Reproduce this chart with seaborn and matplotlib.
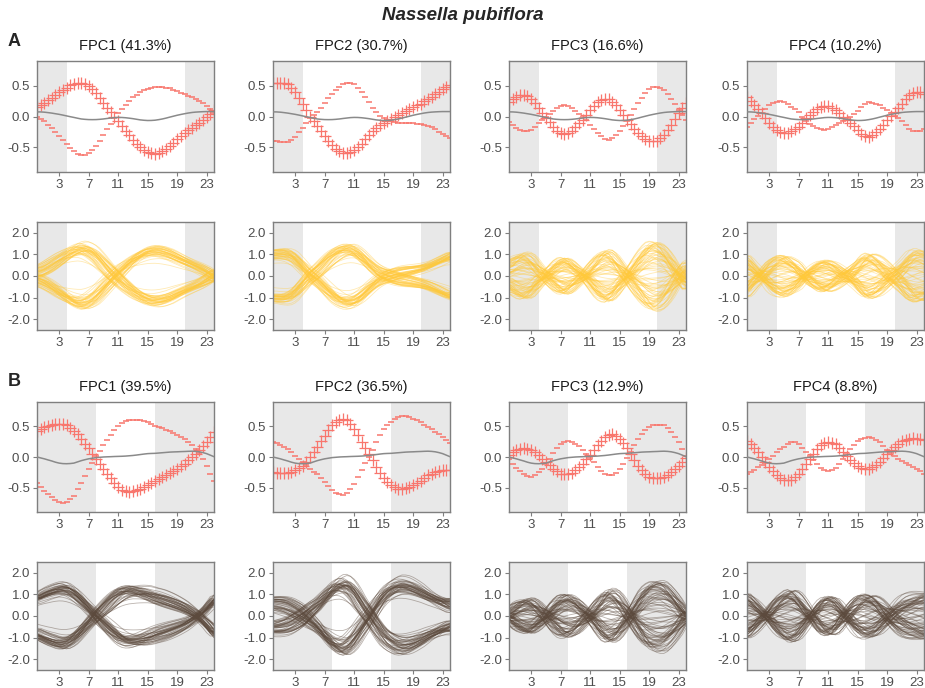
import numpy as np
import pandas as pd
import matplotlib
matplotlib.use("Agg")
import matplotlib.pyplot as plt
import seaborn as sns

# ---------------- data ----------------
hours = np.arange(0, 24.01, 0.5)
xticks = [3, 7, 11, 15, 19, 23]
titles_A = ["FPC1 (41.3%)", "FPC2 (30.7%)", "FPC3 (16.6%)", "FPC4 (10.2%)"]
titles_B = ["FPC1 (39.5%)", "FPC2 (36.5%)", "FPC3 (12.9%)", "FPC4 (8.8%)"]
night_A = [(0, 4), (20, 24)]
night_B = [(0, 8), (16, 24)]

mean_A = [0.075, 0.074, 0.07, 0.063, 0.055, 0.045, 0.035, 0.023, 0.01, -0.003,
          -0.015, -0.028, -0.04, -0.046, -0.05, -0.051, -0.05, -0.046, -0.04, -0.032,
          -0.025, -0.018, -0.015, -0.016, -0.02, -0.027, -0.035, -0.045, -0.055, -0.061,
          -0.065, -0.064, -0.06, -0.051, -0.04, -0.026, -0.01, 0.005, 0.02, 0.033,
          0.045, 0.056, 0.065, 0.071, 0.075, 0.078, 0.08, 0.08, 0.08]
plus_A1 = [0.16, 0.19, 0.22, 0.26, 0.30, 0.345, 0.39, 0.43, 0.47, 0.505,
           0.53, 0.545, 0.55, 0.53, 0.49, 0.44, 0.38, 0.30, 0.22, 0.14,
           0.065, -0.01, -0.08, -0.155, -0.23, -0.305, -0.38, -0.445, -0.50, -0.545,
           -0.58, -0.595, -0.60, -0.585, -0.56, -0.52, -0.48, -0.425, -0.37, -0.32,
           -0.27, -0.225, -0.18, -0.14, -0.10, -0.055, -0.01, 0.045, 0.10]
plus_A2 = [0.54, 0.55, 0.55, 0.54, 0.52, 0.47, 0.40, 0.30, 0.20, 0.10,
           0.0, -0.075, -0.15, -0.235, -0.32, -0.40, -0.47, -0.52, -0.56, -0.585,
           -0.59, -0.58, -0.55, -0.50, -0.44, -0.37, -0.30, -0.235, -0.18, -0.135,
           -0.10, -0.07, -0.04, -0.005, 0.03, 0.06, 0.09, 0.12, 0.15, 0.18,
           0.21, 0.245, 0.28, 0.32, 0.36, 0.40, 0.44, 0.475, 0.51]
plus_A3 = [0.24, 0.29, 0.32, 0.345, 0.35, 0.33, 0.29, 0.22, 0.13, 0.055,
           -0.02, -0.095, -0.17, -0.23, -0.27, -0.285, -0.27, -0.23, -0.17, -0.11,
           -0.05, 0.025, 0.10, 0.17, 0.23, 0.27, 0.29, 0.29, 0.24, 0.18,
           0.10, 0.025, -0.05, -0.125, -0.20, -0.265, -0.32, -0.365, -0.40, -0.405,
           -0.39, -0.355, -0.30, -0.225, -0.14, -0.045, 0.05, 0.14, 0.22]
plus_A4 = [0.32, 0.25, 0.18, 0.115, 0.05, -0.03, -0.11, -0.17, -0.22, -0.255,
           -0.27, -0.265, -0.24, -0.21, -0.17, -0.10, -0.03, 0.03, 0.08, 0.125,
           0.16, 0.175, 0.17, 0.14, 0.10, 0.05, 0.0, -0.05, -0.10, -0.16,
           -0.22, -0.28, -0.32, -0.33, -0.30, -0.255, -0.20, -0.13, -0.06, 0.01,
           0.08, 0.14, 0.20, 0.28, 0.35, 0.385, 0.40, 0.39, 0.37]

mean_B = [0.0, -0.015, -0.03, -0.048, -0.065, -0.085, -0.10, -0.108, -0.11, -0.107,
          -0.10, -0.08, -0.06, -0.044, -0.03, -0.02, -0.01, -0.005, 0.0, 0.003,
          0.005, 0.008, 0.01, 0.012, 0.015, 0.02, 0.025, 0.032, 0.04, 0.048,
          0.055, 0.058, 0.06, 0.065, 0.07, 0.075, 0.08, 0.083, 0.085, 0.088,
          0.09, 0.093, 0.095, 0.092, 0.085, 0.072, 0.055, 0.03, 0.005]
plus_B1 = [0.43, 0.465, 0.49, 0.51, 0.52, 0.535, 0.54, 0.54, 0.52, 0.48,
           0.43, 0.37, 0.30, 0.22, 0.14, 0.055, -0.03, -0.11, -0.19, -0.27,
           -0.35, -0.425, -0.49, -0.535, -0.56, -0.57, -0.56, -0.545, -0.52, -0.49,
           -0.46, -0.425, -0.39, -0.36, -0.33, -0.295, -0.26, -0.225, -0.19, -0.15,
           -0.11, -0.055, 0.0, 0.055, 0.11, 0.18, 0.25, 0.33, 0.41]
plus_B2 = [-0.245, -0.255, -0.26, -0.262, -0.26, -0.245, -0.22, -0.185, -0.14, -0.075,
           0.0, 0.08, 0.16, 0.255, 0.35, 0.44, 0.52, 0.575, 0.61, 0.625,
           0.60, 0.54, 0.46, 0.355, 0.24, 0.145, 0.05, -0.055, -0.16, -0.26,
           -0.35, -0.41, -0.46, -0.495, -0.52, -0.52, -0.51, -0.49, -0.46, -0.425,
           -0.39, -0.345, -0.30, -0.27, -0.245, -0.225, -0.21, -0.212, -0.22]
plus_B3 = [0.03, 0.085, 0.12, 0.137, 0.14, 0.135, 0.12, 0.08, 0.03, -0.025,
           -0.08, -0.135, -0.19, -0.235, -0.27, -0.283, -0.28, -0.255, -0.22, -0.17,
           -0.11, -0.04, 0.03, 0.11, 0.19, 0.265, 0.33, 0.365, 0.37, 0.35,
           0.30, 0.23, 0.14, 0.045, -0.05, -0.14, -0.22, -0.28, -0.32, -0.345,
           -0.35, -0.345, -0.33, -0.29, -0.24, -0.19, -0.14, -0.075, -0.01]
plus_B4 = [0.27, 0.21, 0.15, 0.075, 0.0, -0.08, -0.16, -0.235, -0.30, -0.345,
           -0.37, -0.38, -0.37, -0.33, -0.27, -0.19, -0.11, -0.03, 0.05, 0.125,
           0.19, 0.23, 0.245, 0.235, 0.21, 0.15, 0.08, 0.015, -0.05, -0.105,
           -0.15, -0.18, -0.19, -0.19, -0.17, -0.13, -0.08, -0.015, 0.05, 0.11,
           0.17, 0.22, 0.26, 0.285, 0.30, 0.305, 0.30, 0.29, 0.28]

# per-curve scores on the shown component, weights on a neighbouring component,
# and small time shifts
scores_bimodal = [1.05, -0.98, 0.92, -1.10, 1.15, -0.85, 0.98, -1.02, 0.88, -0.95,
                  1.20, -1.18, 0.80, -0.90, 1.02, -1.06, 0.95, -0.78, 1.10, -1.00,
                  0.86, -1.12, 1.00, -0.92, 0.76, -1.04, 1.08, -0.88, 0.94, -1.15,
                  1.12, -0.96, 0.84, -1.08, 0.99, -0.82, 1.06, -0.99, 0.90, -1.20,
                  0.78, -0.94, 1.16, -0.87, 0.97, -1.03, 0.83, -1.09, 1.04, -0.91,
                  0.89, -1.01, 1.13, -0.80, 0.93, -1.14, 1.01, -0.86, 0.96, -1.07,
                  0.82, -0.93, 1.09, -1.11, 0.87, -0.97, 1.18, -0.84, 0.91, -1.05,
                  1.03, -0.89, 0.79, -1.16, 1.07, -0.81, 0.70, -0.68, 0.55, -0.50]
scores_spread = [1.02, -0.95, 0.78, -0.60, 0.35, -0.15, 0.90, -1.05, 0.55, -0.80,
                 1.10, -0.40, 0.20, -0.70, 0.98, -0.88, 0.65, -1.00, 0.45, -0.25,
                 0.85, -0.92, 0.05, -0.55, 1.05, -0.75, 0.72, -0.98, 0.30, -0.35,
                 0.95, -1.08, 0.60, -0.50, 0.80, -0.85, 0.10, -0.65, 1.00, -0.20,
                 0.40, -0.90, 0.88, -1.02, 0.68, -0.45, 0.25, -0.78, 0.92, -0.96,
                 0.50, -0.30, 0.75, -0.62, 1.08, -0.10, 0.15, -0.82, 0.58, -1.04,
                 0.97, -0.72, 0.83, -0.58, 0.38, -0.93, 1.04, -0.87, 0.62, -0.42,
                 0.70, -1.06, 0.48, -0.68, 0.93, -0.99, 0.28, -0.52, 0.86, -0.77]
mix = [0.25, -0.30, 0.10, 0.40, -0.15, -0.35, 0.30, 0.05, -0.25, 0.20,
       -0.40, 0.15, 0.35, -0.10, -0.30, 0.25, 0.00, -0.20, 0.45, -0.05,
       0.30, -0.45, 0.15, 0.20, -0.35, 0.10, -0.15, 0.40, -0.25, 0.05,
       0.35, -0.10, -0.40, 0.25, 0.10, -0.30, 0.20, -0.20, 0.45, -0.35,
       0.05, 0.30, -0.05, -0.25, 0.15, 0.40, -0.40, 0.10, -0.15, 0.35,
       -0.30, 0.20, 0.25, -0.45, 0.00, 0.30, -0.20, 0.15, -0.35, 0.40,
       0.10, -0.25, 0.35, -0.15, -0.05, 0.45, -0.30, 0.20, 0.05, -0.40,
       0.30, -0.10, -0.25, 0.15, 0.40, -0.35, 0.25, -0.05, 0.10, -0.20]
shifts = [0.3, -0.5, 0.1, 0.6, -0.2, 0.4, -0.6, 0.0, 0.5, -0.3,
          0.2, -0.1, 0.65, -0.4, 0.35, -0.65, 0.15, 0.45, -0.25, 0.05,
          -0.55, 0.25, 0.55, -0.15, -0.35, 0.6, -0.05, 0.4, -0.45, 0.1,
          0.6, -0.55, 0.2, -0.2, 0.5, -0.5, 0.0, 0.3, -0.3, 0.45,
          -0.1, 0.15, -0.4, 0.7, -0.7, 0.25, 0.05, -0.25, 0.35, -0.35,
          0.55, -0.15, 0.1, -0.55, 0.4, -0.05, 0.6, -0.45, 0.2, 0.25,
          -0.35, 0.5, -0.6, 0.1, 0.35, -0.2, 0.55, -0.4, 0.05, -0.25,
          0.4, -0.5, 0.2, 0.65, -0.1, 0.3, -0.6, 0.5, -0.35, 0.0]
gains_A = [2.2, 2.2, 3.4, 3.5]
gains_B = [2.0, 2.4, 3.4, 3.6]
partner = [1, 0, 3, 2]   # component mixed into each curve panel

# ---------------- style ----------------
sns.set_theme(style="ticks")
plt.rcParams['font.family'] = ['Liberation Sans', 'DejaVu Sans']
plt.rcParams['axes.unicode_minus'] = False

RED = '#F8766D'
GRAY = '#8A8A8A'
SHADE = '#E8E8E8'
YELLOW = '#FFC93A'
BROWN = '#5C4A3D'
FRAME = '#7F7F7F'

W, H = 925, 688
fig = plt.figure(figsize=(9.25, 6.88), dpi=100)
col_left = [37, 273, 509, 747]
AXW = 177


def make_ax(left, top, bottom):
    return fig.add_axes([left / W, 1 - bottom / H, AXW / W, (bottom - top) / H])


def style(ax, ylim, yticks, night):
    ax.set_xlim(0, 24)
    ax.set_ylim(*ylim)
    for a, b in night:
        ax.axvspan(a, b, color=SHADE, lw=0, zorder=0)
    ax.set_xticks(xticks)
    ax.set_xticklabels([str(v) for v in xticks])
    ax.set_yticks(yticks)
    ax.set_yticklabels([f"{v:.1f}" for v in yticks])
    for s in ax.spines.values():
        s.set_visible(True)
        s.set_color(FRAME)
        s.set_linewidth(1.0)
    ax.tick_params(bottom=True, left=True, direction='out', length=3, width=0.8,
                   color=FRAME, labelcolor='#4D4D4D', labelsize=9.5, pad=2)
    ax.set_xlabel('')
    ax.set_ylabel('')


def fpc_panel(ax, mean, plus, night):
    mean = np.asarray(mean)
    plus = np.asarray(plus)
    minus = 2 * mean - plus
    sns.scatterplot(x=hours, y=plus, marker='+', s=70, color=RED, linewidth=0.9,
                    ax=ax, zorder=2, legend=False)
    sns.scatterplot(x=hours, y=minus, marker='_', s=16, color=RED, linewidth=1.1,
                    ax=ax, zorder=2, legend=False)
    sns.lineplot(x=hours, y=mean, color=GRAY, lw=1.1, ax=ax, zorder=3)
    style(ax, (-0.9, 0.9), [0.5, 0.0, -0.5], night)


def curve_panel(ax, mean, plus, other, gain, scores, color, alpha, night):
    phi = np.asarray(plus) - np.asarray(mean)
    phi_o = np.asarray(other) - np.asarray(mean)
    rows = []
    for i, (z, w, d) in enumerate(zip(scores, mix, shifts)):
        vals = gain * (z * np.interp(hours - d, hours, phi)
                       + 0.6 * w * np.interp(hours - d, hours, phi_o))
        rows.append(pd.DataFrame({'t': hours, 'v': vals, 'curve': i}))
    df = pd.concat(rows, ignore_index=True)
    sns.lineplot(data=df, x='t', y='v', units='curve', estimator=None,
                 color=color, alpha=alpha, lw=0.6, ax=ax, legend=False)
    style(ax, (-2.5, 2.5), [2.0, 1.0, 0.0, -1.0, -2.0], night)


plus_list_A = [plus_A1, plus_A2, plus_A3, plus_A4]
plus_list_B = [plus_B1, plus_B2, plus_B3, plus_B4]

for k in range(4):
    score_set = scores_bimodal if k < 2 else scores_spread
    # species A
    ax = make_ax(col_left[k], 61, 172)
    fpc_panel(ax, mean_A, plus_list_A[k], night_A)
    fig.text((col_left[k] + AXW / 2) / W, 1 - 46 / H, titles_A[k], ha='center',
             va='center', fontsize=10.5, color='#1A1A1A')
    ax = make_ax(col_left[k], 222, 330)
    curve_panel(ax, mean_A, plus_list_A[k], plus_list_A[partner[k]], gains_A[k],
                score_set, YELLOW, 0.38, night_A)
    # species B
    ax = make_ax(col_left[k], 402, 512)
    fpc_panel(ax, mean_B, plus_list_B[k], night_B)
    fig.text((col_left[k] + AXW / 2) / W, 1 - 387 / H, titles_B[k], ha='center',
             va='center', fontsize=10.5, color='#1A1A1A')
    ax = make_ax(col_left[k], 562, 670)
    curve_panel(ax, mean_B, plus_list_B[k], plus_list_B[partner[k]], gains_B[k],
                score_set, BROWN, 0.42, night_B)

fig.text(0.5, 1 - 16 / H, "Nassella pubiflora", ha='center', va='center',
         fontsize=13.5, fontweight='bold', style='italic')
fig.text(14 / W, 1 - 42 / H, "A", ha='center', va='center', fontsize=13, fontweight='bold')
fig.text(14 / W, 1 - 382 / H, "B", ha='center', va='center', fontsize=13, fontweight='bold')

fig.savefig("out.png", dpi=100)
